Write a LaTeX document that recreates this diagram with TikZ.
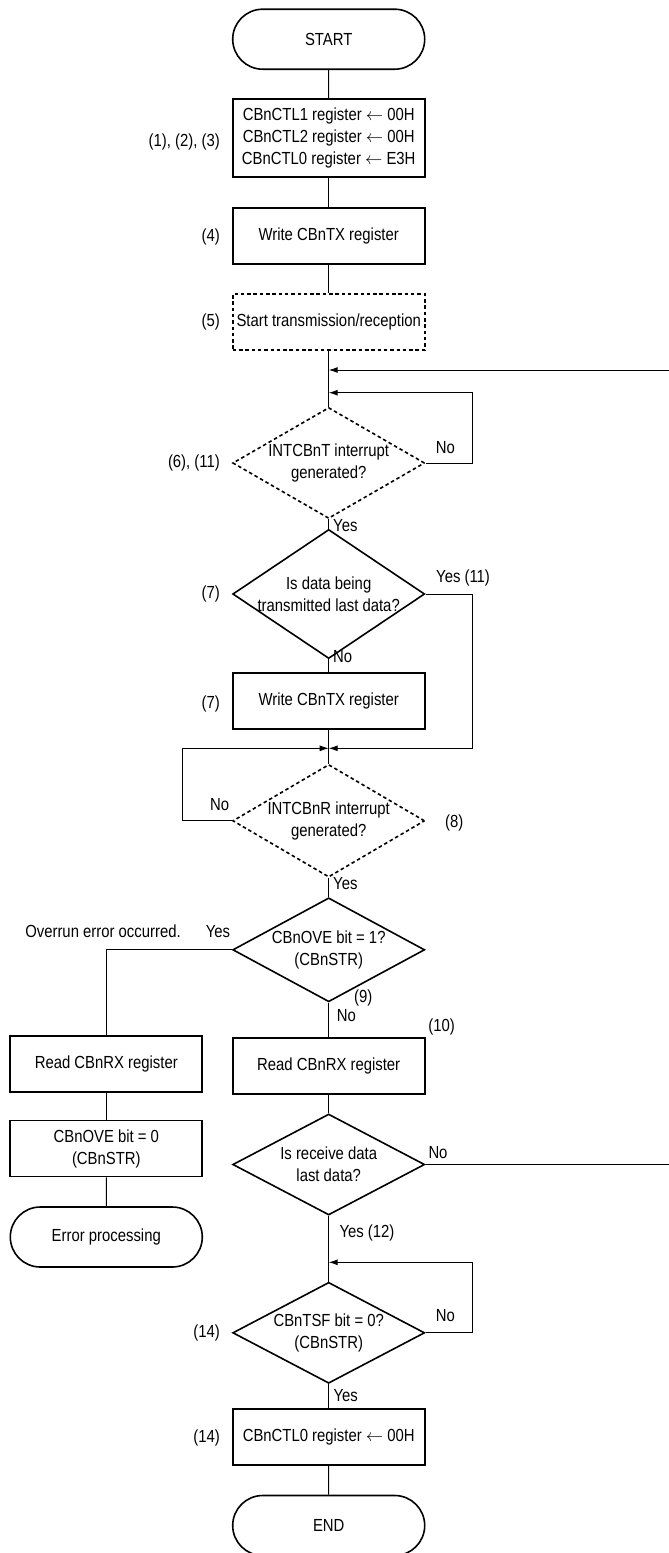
\documentclass[tikz,border=0pt]{standalone}
\usepackage{fontspec}
\setmainfont{Liberation Sans}[FakeStretch=0.85]
\usetikzlibrary{shapes.geometric,shapes.misc,arrows.meta}
\tikzset{
  every node/.style={font=\fontsize{17.5}{22}\selectfont},
  term/.style={rounded rectangle,draw,line width=1.6pt,minimum width=192pt,minimum height=60pt,inner sep=0pt},
  proc/.style={rectangle,draw,line width=1.8pt,minimum width=192pt,minimum height=56pt,align=center,inner sep=0pt},
  dproc/.style={proc,line width=1.6pt,dash pattern=on 3.5pt off 2.8pt},
  dec/.style={diamond,draw,line width=1.6pt,minimum width=192pt,minimum height=101pt,inner sep=-12pt,align=center},
  ddec/.style={dec,dash pattern=on 3.5pt off 2.8pt},
  lbl/.style={inner sep=0pt},
  conn/.style={line width=1pt},
  arr/.style={conn,-{Latex[length=9pt,width=6pt]}},
}
\begin{document}
\begin{tikzpicture}[x=1pt,y=-1pt]
  \useasboundingbox (0,0) rectangle (669,1553);
  % main column
  \node[term] (start) at (328.7,39.2) {START};
  \node[proc,minimum height=78pt] (init) at (328.7,138.2) {CBnCTL1 register $\leftarrow$ 00H\\CBnCTL2 register $\leftarrow$ 00H\\CBnCTL0 register $\leftarrow$ E3H};
  \node[proc] (wtx1) at (328.7,236.3) {Write CBnTX register};
  \node[dproc] (sttr) at (328.7,322) {Start transmission/reception};
  \node[ddec] (d1) at (328.7,463) {INTCBnT interrupt\\generated?};
  \node[dec] (d2) at (328.7,594) {Is data being\\transmitted last data?};
  \node[proc] (wtx2) at (328.7,700.8) {Write CBnTX register};
  \node[ddec] (d3) at (328.7,820.8) {INTCBnR interrupt\\generated?};
  \node[dec] (d4) at (328.7,949.8) {CBnOVE bit = 1?\\(CBnSTR)};
  \node[proc] (rrx) at (328.7,1066.3) {Read CBnRX register};
  \node[dec] (d5) at (328.7,1164.5) {Is receive data\\last data?};
  \node[dec] (d6) at (328.7,1332.8) {CBnTSF bit = 0?\\(CBnSTR)};
  \node[proc] (ctl0) at (328.7,1436.7) {CBnCTL0 register $\leftarrow$ 00H};
  \node[term] (fin) at (328.7,1525.5) {END};
  % error branch
  \node[proc] (lrx) at (106.3,1063.7) {Read CBnRX register};
  \node[proc] (ove0) at (106.3,1148.5) {CBnOVE bit = 0\\(CBnSTR)};
  \node[term] (err) at (106.3,1237) {Error processing};
  % step numbers
  \node[lbl,anchor=east] (n123) at (220,141.7) {(1), (2), (3)};
  \node[lbl,anchor=east] (n4) at (220,236.7) {(4)};
  \node[lbl,anchor=east] (n5) at (220,322.3) {(5)};
  \node[lbl,anchor=east] (n611) at (220,463) {(6), (11)};
  \node[lbl,anchor=east] (n7a) at (220,594) {(7)};
  \node[lbl,anchor=east] (n7b) at (220,704.3) {(7)};
  \node[lbl,anchor=west] (n8) at (445,822.7) {(8)};
  \node[lbl] (n9) at (363.3,998.3) {(9)};
  \node[lbl] (n10) at (441.7,1027.3) {(10)};
  \node[lbl,anchor=east] (n14a) at (220,1332.7) {(14)};
  \node[lbl,anchor=east] (n14b) at (220,1438.3) {(14)};
  % branch labels
  \node[lbl,anchor=west] (no1) at (435.7,447.7) {No};
  \node[lbl,anchor=west] (yes1) at (333,526) {Yes};
  \node[lbl,anchor=west] (yes2) at (436,577.7) {Yes (11)};
  \node[lbl,anchor=west] (no2) at (333,656.7) {No};
  \node[lbl,anchor=east] (no3) at (229.3,805) {No};
  \node[lbl,anchor=west] (yes3) at (333,883.3) {Yes};
  \node[lbl] (yes4) at (218,931.7) {Yes};
  \node[lbl] (ovr) at (103,931.7) {Overrun error occurred.};
  \node[lbl,anchor=west] (no4) at (336.7,1015.7) {No};
  \node[lbl,anchor=west] (no5) at (428.3,1152.7) {No};
  \node[lbl,anchor=west] (yes5) at (339.3,1232.7) {Yes (12)};
  \node[lbl,anchor=west] (no6) at (435.7,1316) {No};
  \node[lbl,anchor=west] (yes6) at (333.3,1395.7) {Yes};
  % junctions
  \coordinate (j1) at (328.7,370);
  \coordinate (j2) at (328.7,392.7);
  \coordinate (j3) at (328.7,748.3);
  \coordinate (j4) at (328.7,1262.3);
  \coordinate (rt) at (672,0);
  % connectors
  \draw[conn] (start) -- (init);
  \draw[conn] (init) -- (wtx1);
  \draw[conn] (wtx1) -- (sttr);
  \draw[conn] (sttr) -- (d1);
  \draw[arr] (d1.east) -- ++(46.7,0) |- (j2);
  \draw[conn] (d1) -- (d2);
  \draw[arr] (d2.east) -- ++(46.7,0) |- (j3);
  \draw[conn] (d2) -- (wtx2);
  \draw[conn] (wtx2) -- (d3);
  \draw[arr] (d3.west) -- ++(-49,0) |- (j3);
  \draw[conn] (d3) -- (d4);
  \draw[conn] (d4.west) -| (lrx);
  \draw[conn] (d4) -- (rrx);
  \draw[conn] (lrx) -- (ove0);
  \draw[conn] (ove0) -- (err);
  \draw[conn] (rrx) -- (d5);
  \draw[arr] (d5.east) -- (d5.east -| rt) |- (j1);
  \draw[conn] (d5) -- (d6);
  \draw[arr] (d6.east) -- ++(46.7,0) |- (j4);
  \draw[conn] (d6) -- (ctl0);
  \draw[conn] (ctl0) -- (fin);
\end{tikzpicture}
\end{document}
